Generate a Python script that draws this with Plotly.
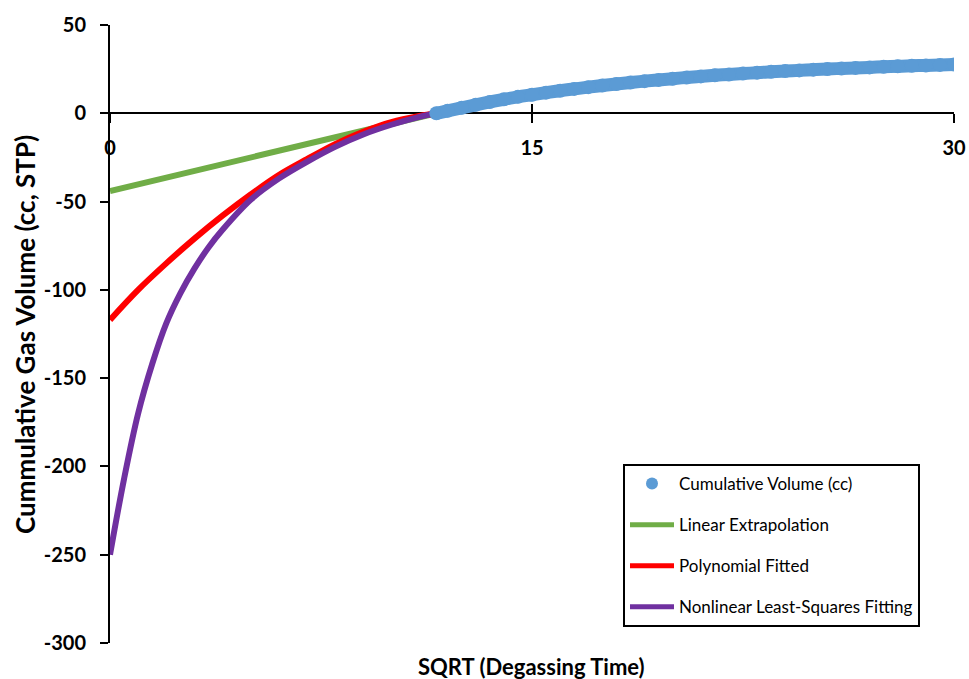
import plotly.graph_objects as go

# ---- data ----
cum_x = [11.6, 12, 12.5, 13, 13.5, 14, 14.5, 15, 15.5, 16, 16.5, 17, 17.5, 18, 18.5, 19, 19.5, 20,
         20.5, 21, 21.5, 22, 22.5, 23, 23.5, 24, 24.5, 25, 25.5, 26, 26.5, 27, 27.5, 28, 28.5, 29,
         29.5, 30]
cum_y = [0, 1.4, 3.1, 4.8, 6.4, 7.9, 9.3, 10.5, 11.7, 12.8, 13.8, 14.8, 15.7, 16.6, 17.4, 18.2,
         18.9, 19.6, 20.3, 20.9, 21.5, 22.0, 22.5, 23.0, 23.5, 23.9, 24.3, 24.7, 25.1, 25.4, 25.7,
         26.0, 26.3, 26.6, 26.9, 27.1, 27.4, 27.6]

lin_x = [0, 11.6]
lin_y = [-44, 0]

poly_x = [0, 1, 2, 3, 4, 5, 6, 7, 8, 9, 10, 11, 11.6]
poly_y = [-117, -100, -85, -71, -58, -46, -35, -26, -17.5, -10.5, -5, -1.5, 0]

nls_x = [0, 0.5, 1, 1.5, 2, 2.5, 3, 3.5, 4, 5, 6, 7, 8, 9, 10, 11, 11.6]
nls_y = [-250, -207, -170, -142, -119, -102, -88, -76, -66, -49, -37, -27.5, -19, -12, -6.5, -2, 0]

x_ticks = [0, 15, 30]
y_ticks = [50, 0, -50, -100, -150, -200, -250, -300]

names = ["Cumulative Volume (cc)", "Linear Extrapolation", "Polynomial Fitted",
         "Nonlinear Least-Squares Fitting"]

BLUE = "#5B9BD5"
GREEN = "#70AD47"
RED = "#FF0000"
PURPLE = "#7030A0"
FONT = "Lato"

fig = go.Figure()

fig.add_trace(go.Scatter(x=lin_x, y=lin_y, mode="lines", name=names[1], legendgroup="b",
                         legendrank=2, line=dict(color=GREEN, width=6)))
fig.add_trace(go.Scatter(x=poly_x, y=poly_y, mode="lines", name=names[2], legendgroup="c",
                         legendrank=3, line=dict(color=RED, width=6, shape="spline")))
fig.add_trace(go.Scatter(x=nls_x, y=nls_y, mode="lines", name=names[3], legendgroup="d",
                         legendrank=4, line=dict(color=PURPLE, width=6, shape="spline")))
# measured data: dense markers (band underlay + markers)
fig.add_trace(go.Scatter(x=cum_x, y=cum_y, mode="lines", showlegend=False, hoverinfo="skip",
                         line=dict(color=BLUE, width=13, shape="spline")))
fig.add_trace(go.Scatter(x=cum_x, y=cum_y, mode="markers", name=names[0], legendgroup="a",
                         legendrank=1, marker=dict(color=BLUE, size=14)))

axis_pos = 300 / 350
PW = 969 - 110 - 15
PH = 679 - 25 - 36

fig.update_layout(
    width=969, height=679,
    margin=dict(l=110, r=15, t=25, b=36, autoexpand=False),
    paper_bgcolor="white", plot_bgcolor="white",
    font=dict(family=FONT, color="black"),
    xaxis=dict(range=[0, 30], tickvals=x_ticks, ticktext=[str(v) for v in x_ticks],
               showgrid=False, zeroline=False, showline=True, linecolor="black", linewidth=2,
               ticks="outside", ticklen=9, tickwidth=2, tickcolor="black",
               tickfont=dict(family=FONT, size=20, color="black", weight="bold"),
               ticklabelstandoff=8, automargin=False,
               anchor="free", position=axis_pos, layer="below traces"),
    xaxis2=dict(range=[0, 30], tickvals=x_ticks, showticklabels=False, overlaying="x",
                showgrid=False, zeroline=False, showline=False, automargin=False,
                ticks="inside", ticklen=9, tickwidth=2, tickcolor="black",
                anchor="free", position=axis_pos, layer="below traces"),
    yaxis=dict(range=[-300, 50], tickvals=y_ticks, ticktext=[str(v) for v in y_ticks],
               showgrid=False, zeroline=False, showline=True, linecolor="black", linewidth=2,
               ticks="outside", ticklen=8, tickwidth=2, tickcolor="black",
               tickfont=dict(family=FONT, size=20, color="black", weight="bold"),
               ticklabelstandoff=10, automargin=False),
    legend=dict(x=(623 - 110) / PW, y=1 - (464 - 25) / PH, xanchor="left", yanchor="top",
                bgcolor="white", bordercolor="black", borderwidth=2,
                font=dict(family=FONT, size=17, color="black"),
                tracegroupgap=16, itemwidth=44, itemsizing="constant",
                traceorder="grouped"),
    showlegend=True,
)

fig.add_trace(go.Scatter(x=[0], y=[0], xaxis="x2", mode="markers", showlegend=False,
                         hoverinfo="skip", marker=dict(opacity=0)))

fig.add_annotation(text="<b>SQRT (Degassing Time)</b>", xref="paper", yref="paper",
                   x=(531 - 110) / PW, y=1 - (666 - 25) / PH, xanchor="center", yanchor="middle",
                   showarrow=False, font=dict(family=FONT, size=22, color="black"))
fig.add_annotation(text="<b>Cummulative Gas Volume (cc, STP)</b>", xref="paper", yref="paper",
                   x=(25 - 110) / PW, y=1 - (335 - 25) / PH, xanchor="center", yanchor="middle",
                   textangle=-90, showarrow=False, font=dict(family=FONT, size=26, color="black"))

fig.write_html("out.html")
